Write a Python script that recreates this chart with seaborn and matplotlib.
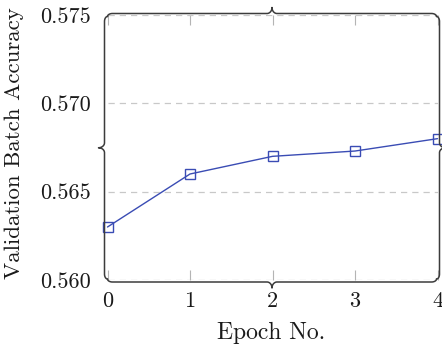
import matplotlib
matplotlib.use('Agg')
import matplotlib.pyplot as plt
import numpy as np
import pandas as pd
import seaborn as sns
from matplotlib.lines import Line2D

epochs = [0, 1, 2, 3, 4]
accuracy = [0.563, 0.566, 0.567, 0.5673, 0.568]
y_ticks = [0.560, 0.565, 0.570, 0.575]
y_tick_labels = ['0.560', '0.565', '0.570', '0.575']
x_tick_labels = ['0', '1', '2', '3', '4']

sns.set_style('white')
plt.rcParams['font.family'] = ['cmr10', 'DejaVu Serif']
plt.rcParams['axes.formatter.use_mathtext'] = True

W, H = 442, 349
fig = plt.figure(figsize=(W / 100, H / 100), dpi=100)
# axes box in pixels (from top-left)
ax_l, ax_r, ax_t, ax_b = 107.5, 437.5, 15, 280
ax = fig.add_axes([ax_l / W, (H - ax_b) / H, (ax_r - ax_l) / W, (ax_b - ax_t) / H])

df = pd.DataFrame({'epoch': epochs, 'acc': accuracy})
sns.lineplot(data=df, x='epoch', y='acc', ax=ax, color='#3a4cb4', lw=1.0,
             marker='s', markersize=7.3, markerfacecolor='none',
             markeredgecolor='#3a4cb4', markeredgewidth=1.0, clip_on=False)

ax.set_xlim(0, 4)
ax.set_ylim(0.560, 0.575)
ax.set_xticks(epochs, x_tick_labels)
ax.set_yticks(y_ticks, y_tick_labels)
ax.tick_params(axis='x', direction='in', length=7, width=0.8, color='#b4b4b4',
               top=True, bottom=True, labelsize=16, pad=8)
ax.tick_params(axis='y', length=0, labelsize=16, pad=12)
for lab in ax.get_xticklabels() + ax.get_yticklabels():
    lab.set_color('#1a1a1a')
ax.yaxis.grid(True, ls=(0, (5, 4)), color='#c8c8c8', lw=0.9)
ax.set_axisbelow(True)
for s in ax.spines.values():
    s.set_visible(False)
ax.set_xlabel('Epoch No.', fontsize=17, color='#1a1a1a')
ax.set_ylabel('Validation Batch Accuracy', fontsize=16.5, color='#1a1a1a')
ax.xaxis.set_label_coords(0.497, -0.158)
ax.yaxis.set_label_coords(-0.252, 0.515)


# brace-shaped frame (pgfplots style), drawn in pixel coordinates
def brace(p0, p1, out, q=3.0, amp=6.0, r=5.0, n=30):
    p0, p1, out = np.array(p0, float), np.array(p1, float), np.array(out, float)
    L = np.linalg.norm(p1 - p0)
    d = (p1 - p0) / L
    th = np.linspace(0, np.pi / 2, n)
    s1 = r * (1 - np.cos(th)); n1 = q * np.sin(th)
    s2 = L / 2 - r + r * np.sin(th); n2 = q + amp * (1 - np.cos(th))
    s = np.concatenate([s1, s2, L - s2[::-1], L - s1[::-1]])
    nn = np.concatenate([n1, n2, n2[::-1], n1[::-1]])
    pts = p0[None, :] + s[:, None] * d[None, :] + nn[:, None] * out[None, :]
    return pts


fl, fr, ft, fb = 104.5, 439.5, 13.5, 282
q = 3.0
sides = [
    brace((fl + q, H - fb + q), (fr - q, H - fb + q), (0, -1)),   # bottom
    brace((fl + q, H - ft - q), (fr - q, H - ft - q), (0, 1)),    # top
    brace((fl + q, H - fb + q), (fl + q, H - ft - q), (-1, 0)),   # left
    brace((fr - q, H - fb + q), (fr - q, H - ft - q), (1, 0)),    # right
]
for pts in sides:
    fig.add_artist(Line2D(pts[:, 0], pts[:, 1], transform=None, color='#3c3c3c',
                          lw=1.1, solid_capstyle='round'))

fig.savefig('out.png', dpi=100)
